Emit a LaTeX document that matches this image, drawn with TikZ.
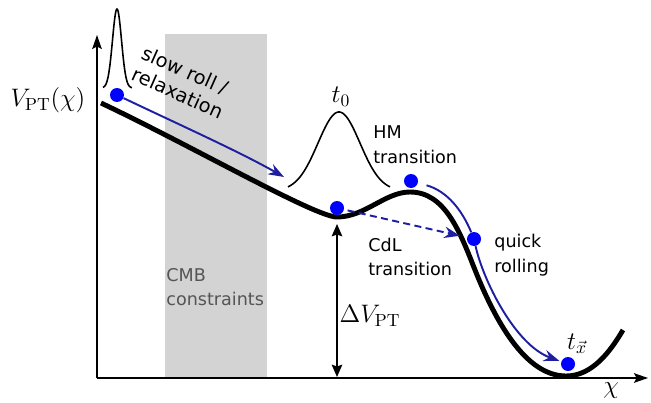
\documentclass[tikz,border=0pt]{standalone}
\usepackage{amsmath,amssymb}
\usepackage{fontspec}
\setsansfont{DejaVu Sans}
\usepackage{tikz}
\usetikzlibrary{
  arrows.meta,
  positioning,
  calc,
}
\definecolor{flowblue}{RGB}{30,30,160}
\definecolor{cmbgray}{RGB}{211,211,211}
\definecolor{cmbtext}{RGB}{85,85,85}

\begin{document}
\begin{tikzpicture}[
  x=0.02cm, y=-0.02cm,
  font=\sffamily\fontsize{10}{14}\selectfont,
  axis/.style={line width=0.7pt, -{Stealth[length=8pt, width=5.5pt, inset=1.5pt]}},
  potential/.style={line width=2.8pt, line join=round},
  wave/.style={line width=0.9pt},
  dot/.style={circle, fill=blue, inner sep=0pt, minimum size=0.28cm},
  flow/.style={flowblue, line width=1.1pt, -{Stealth[length=9pt, width=6.5pt, inset=3pt]}},
  txt/.style={align=left, inner sep=0pt, anchor=west},
]
  \useasboundingbox (0,0) rectangle (651,402);

  % CMB band
  \fill[cmbgray] (165,34) rectangle (267,378);
  \node[txt, text=cmbtext] (cmb) at (166,287) {CMB\\constraints};

  % Axes
  \coordinate (origin) at (97,378);
  \coordinate (ytop) at (97,35);
  \coordinate (xend) at (648,378);
  \draw[axis] (origin) -- (ytop);
  \draw[axis] (origin) -- (xend);
  \node[font=\Large] (vlabel) at (48,100) {$V_{\mathrm{PT}}(\chi)$};
  \node[font=\Large] (chilabel) at (611,391) {$\chi$};

  % Potential
  \draw[potential] (101,103) .. controls (190,145) and (315,217) .. (337,217)
    .. controls (365,217) and (385,192) .. (410,192)
    .. controls (445,192) and (460,232) .. (475,270)
    .. controls (495,320) and (525,376) .. (566,376)
    .. controls (592,376) and (610,352) .. (623,330);

  % Wave packets
  \draw[wave] plot[domain=103:132, samples=80] (\x, {88-79*exp(-((\x-117)/4.5)^2/2)});
  \draw[wave] plot[domain=288:390, samples=100] (\x, {191-79*exp(-((\x-339)/21)^2/2)});
  \node[font=\Large] (tzero) at (341,97) {$t_0$};

  % Field positions
  \node[dot] (d1) at (117,95) {};
  \node[dot] (d0) at (337,208) {};
  \node[dot] (d2) at (411,181) {};
  \node[dot] (d3) at (474,239) {};
  \node[dot] (d4) at (568,364) {};
  \node[font=\Large] (tx) at (577,344) {$t_{\vec{x}}$};

  % Evolution arrows
  \coordinate (a1) at (284,177);
  \draw[flow] (d1) .. controls (180,125) and (240,152) .. (a1);
  \draw[flowblue, line width=1.1pt, shorten <=5pt] (d2) .. controls (447,191) and (462,210) .. (d3);
  \draw[flow, shorten >=1pt] (d3) .. controls (483,280) and (515,345) .. (d4);
  \draw[flow, dashed, dash pattern=on 4pt off 2.5pt, shorten <=2pt, shorten >=4pt] (d0) -- (d3);

  % Barrier height
  \coordinate (vmin) at (337,224);
  \coordinate (vbase) at (337,377);
  \draw[line width=1pt, {Stealth[length=7pt, width=6pt, inset=1pt]}-{Stealth[length=7pt, width=6pt, inset=1pt]}] (vmin) -- (vbase);
  \node[font=\Large] (dv) at (370,316) {$\Delta V_{\mathrm{PT}}$};

  % Labels
  \node[align=left, inner sep=0pt, rotate=-24, font=\sffamily\fontsize{11}{13.5}\selectfont] (slow) at (183,82) {slow roll /\\relaxation};
  \node[txt] (hm) at (373,145) {HM\\transition};
  \node[txt] (cdl) at (368,257) {CdL\\transition};
  \node[txt] (quick) at (494,255) {quick\\rolling};
\end{tikzpicture}
\end{document}
